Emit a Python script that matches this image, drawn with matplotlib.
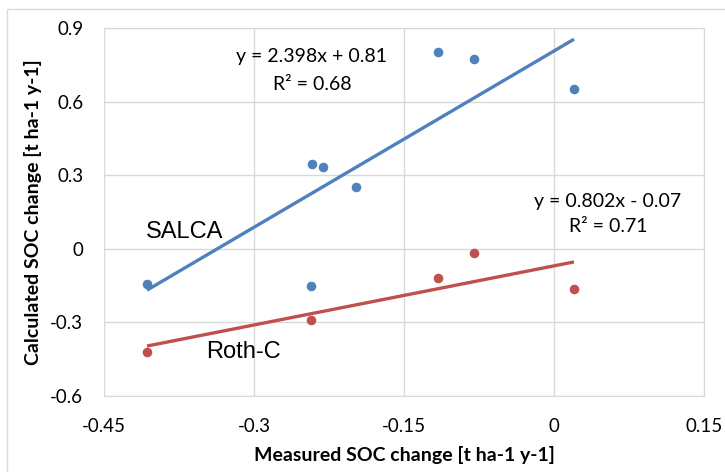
import numpy as np
import matplotlib.pyplot as plt
from matplotlib.patches import Rectangle

# measured vs calculated SOC change [t ha-1 y-1]
salca_x = [-0.407, -0.242, -0.231, -0.198, -0.243, -0.116, -0.080, 0.020]
salca_y = [-0.142, 0.344, 0.335, 0.253, -0.150, 0.803, 0.772, 0.650]
rothc_x = [-0.407, -0.243, -0.116, -0.080, 0.020]
rothc_y = [-0.421, -0.292, -0.119, -0.016, -0.163]

x_ticks = [-0.45, -0.3, -0.15, 0, 0.15]
y_ticks = [-0.6, -0.3, 0, 0.3, 0.6, 0.9]

BLUE = '#4F81BD'
RED = '#C0504D'

plt.rcParams['font.family'] = ['Lato', 'DejaVu Sans']

fig = plt.figure(figsize=(7.25, 4.72), dpi=100)
ax = fig.add_axes([104 / 725, 1 - 396 / 472, 600 / 725, 368 / 472])

# outer chart border
fig.patches.append(Rectangle((7 / 725, -0.1), 1.1, 1 - 9 / 472 + 0.1,
                             transform=fig.transFigure, fill=False,
                             edgecolor='#D9D9D9', lw=1.0))


def trend(xs, ys, color):
    k, b = np.polyfit(xs, ys, 1)
    xx = np.array([min(xs), max(xs)])
    ax.plot(xx, k * xx + b, color=color, lw=2.4, solid_capstyle='butt', zorder=2)


ax.scatter(salca_x, salca_y, s=48, color=BLUE, zorder=3, linewidths=0)
ax.scatter(rothc_x, rothc_y, s=48, color=RED, zorder=3, linewidths=0)
trend(salca_x, salca_y, BLUE)
trend(rothc_x, rothc_y, RED)

ax.set_xlim(-0.45, 0.15)
ax.set_ylim(-0.6, 0.9)
ax.set_xticks(x_ticks)
ax.set_xticklabels(['-0.45', '-0.3', '-0.15', '0', '0.15'])
ax.set_yticks(y_ticks)
ax.set_yticklabels(['-0.6', '-0.3', '0', '0.3', '0.6', '0.9'])
ax.tick_params(length=0, labelsize=13.5)
ax.tick_params(axis='y', pad=15)
ax.tick_params(axis='x', pad=16)
ax.grid(True, color='#D9D9D9', lw=1.0)
ax.set_axisbelow(True)
for s in ax.spines.values():
    s.set_color('#D9D9D9')

ax.set_xlabel('Measured SOC change [t ha-1 y-1]', fontsize=14,
              fontweight='bold')
ax.set_ylabel('Calculated SOC change [t ha-1 y-1]', fontsize=14,
              fontweight='bold')
ax.xaxis.set_label_coords(0.5, -0.136)
ax.yaxis.set_label_coords(-0.103, 0.5)

ax.text(-0.242, 0.782, 'y = 2.398x + 0.81', fontsize=14, ha='center', va='center')
ax.text(-0.242, 0.671, 'R² = 0.68', fontsize=14, ha='center', va='center')
ax.text(0.054, 0.194, 'y = 0.802x - 0.07', fontsize=14, ha='center', va='center')
ax.text(0.054, 0.092, 'R² = 0.71', fontsize=14, ha='center', va='center')
ax.text(-0.408, 0.067, 'SALCA', fontsize=17, family='Liberation Sans',
        ha='left', va='center')
ax.text(-0.348, -0.42, 'Roth-C', fontsize=17, family='Liberation Sans',
        ha='left', va='center')

fig.savefig('out.png', dpi=100)
